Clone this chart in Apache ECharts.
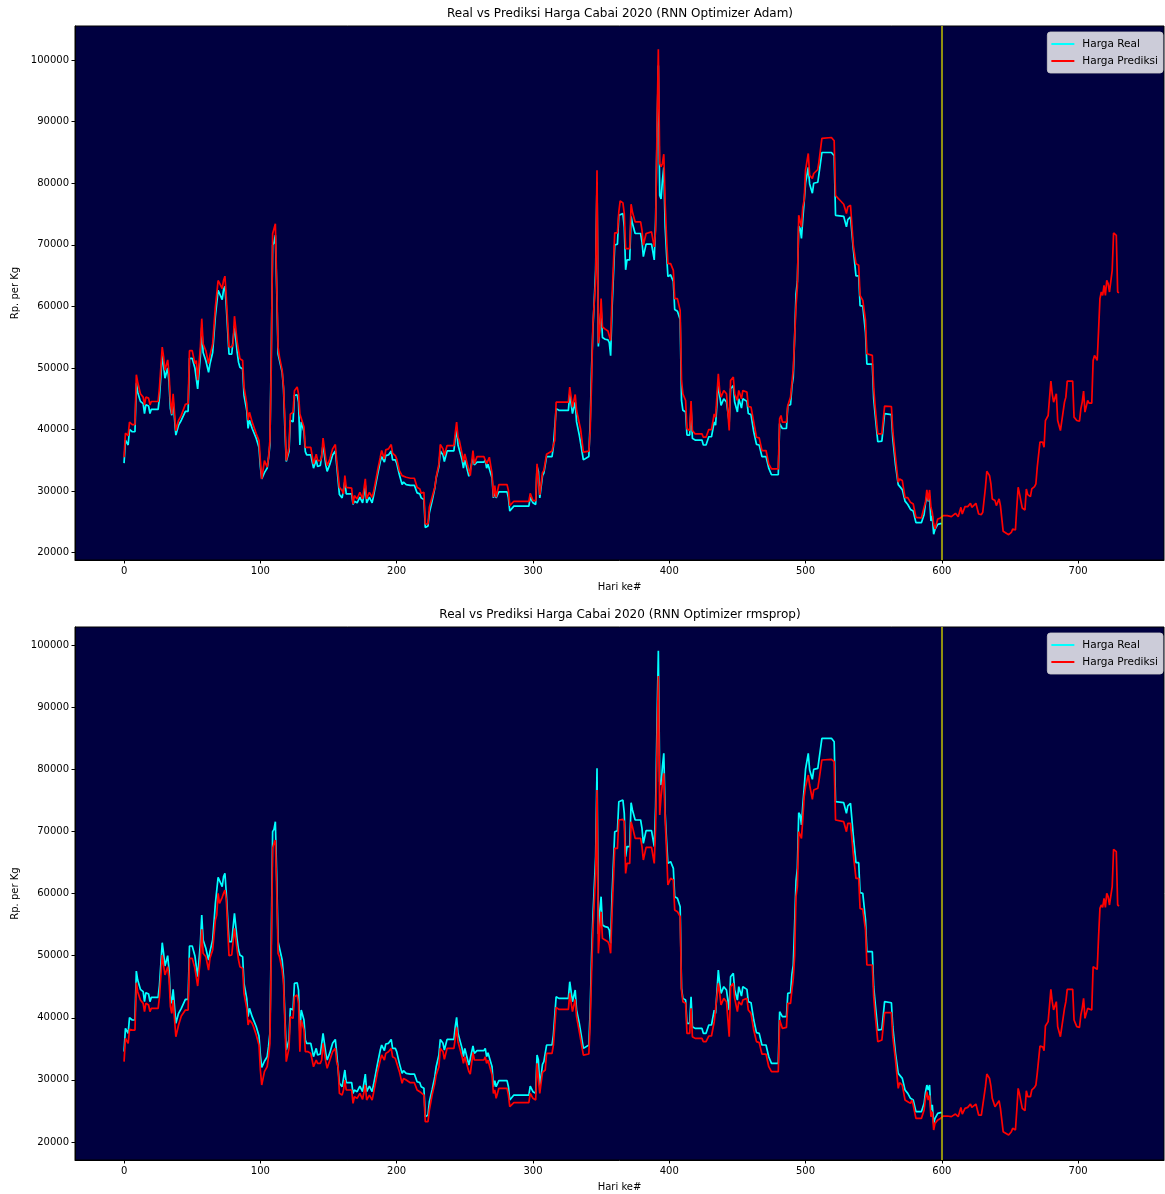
<!DOCTYPE html>
<html><head><meta charset="utf-8">
<script src="https://cdn.jsdelivr.net/npm/echarts@6/dist/echarts.min.js"></script>
<style>html,body{margin:0;padding:0;background:#fff}#c{width:1165px;height:1194px}</style>
</head><body><div id="c"></div>
<script>
// ---- historical period (days 0..600): real price and the two model predictions ----
const histDays = [
0,1,3,4,6,8,9,10,12,14,
15,16,18,19,20,25,26,28,29,30,
32,33,34,35,36,38,40,42,45,47,
48,50,52,53,54,56,57,58,60,62,
63,65,67,68,69,70,72,73,74,75,
77,79,80,81,83,84,85,87,88,90,
91,92,94,95,97,99,100,101,103,105,
106,107,108,109,110,111,112,113,114,116,
117,118,119,121,122,124,125,127,128,129,
130,132,133,134,135,137,139,141,142,144,
145,146,148,149,151,153,155,156,157,158,
160,161,162,163,167,168,169,171,173,175,
176,177,178,180,182,183,184,186,188,189,
191,192,194,196,197,199,200,202,204,205,
207,210,213,215,217,218,220,221,223,224,
226,228,229,231,232,234,235,237,242,243,
244,245,246,248,249,250,251,253,254,256,
257,259,264,265,266,267,268,270,271,272,
273,275,281,282,283,284,286,297,298,299,
300,302,303,304,305,307,308,309,310,314,
315,316,317,319,326,327,329,331,332,334,
335,337,341,342,343,344,346,347,348,349,
350,351,353,355,356,357,358,359,360,362,
363,364,366,367,368,369,371,372,373,375,
379,380,381,383,387,389,390,391,392,393,
394,395,396,397,398,399,401,403,404,406,
408,409,410,412,413,415,416,417,419,424,
425,427,429,431,433,434,436,437,438,440,
442,444,445,447,448,450,451,453,454,457,
458,460,462,464,466,468,471,473,475,480,
481,482,483,486,487,489,490,491,492,493,
494,495,496,497,498,499,500,502,503,505,
506,509,510,512,519,521,522,528,530,531,
533,535,537,539,540,542,544,545,549,550,
551,553,556,558,563,564,566,568,569,571,
573,575,577,578,579,581,585,587,588,589,
590,591,592,593,594,595,597,599,600
];
const realVals = [
34540,38290,37490,40010,39640,39640,47520,46070,44570,44200,
42590,44040,43820,42590,43280,43280,45270,52080,50370,48330,
49990,47680,43390,42320,44570,39100,40710,41510,42960,42960,
51550,51550,49940,49990,46610,51980,56540,52510,51170,49290,
50640,52510,58420,58420,62600,62440,61100,62710,63250,60030,
52240,52240,52410,56810,52510,50900,50100,49830,45540,43120,
40170,41510,40170,39900,38560,37060,34000,32000,33000,33730,
35340,37490,52510,69950,70330,71560,62710,52240,51980,49290,
46610,40170,34800,36410,41510,41240,45540,45640,44460,37500,
41240,39640,36410,35880,35980,35880,33730,35070,34000,34160,
34270,37490,34270,33200,34380,35880,36520,34270,34000,29440,
28900,28900,31590,29550,29550,27830,28370,28100,29010,28100,
28370,30940,28100,29010,28100,29170,29440,32660,34810,35610,
34700,35770,35880,36520,35070,35070,34540,32660,31050,31480,
31050,30940,30940,29710,29550,28900,28640,24080,24340,26490,
28370,30510,32120,34000,36520,35880,34810,36520,36520,38560,
40070,37490,37490,35070,33730,35070,34810,32390,32120,35450,
34270,34700,34700,35070,33730,34380,34540,32120,28900,29870,
28900,29870,29870,28900,26760,26490,27560,27560,29010,28900,
28100,27830,34000,33200,28900,32500,32930,33200,35610,35610,
37220,37490,43390,43120,43120,45800,42580,44460,41240,39100,
38800,35070,35610,41240,49830,56270,65930,80150,53500,57000,
59490,54930,54660,54550,54120,51980,59490,59490,69950,70110,
74780,75050,75050,72900,65930,67540,67540,74620,73440,71830,
71830,70490,68070,70110,70110,67540,73980,87000,99090,78000,
77460,80410,82560,72900,68610,64850,65120,64050,59490,59220,
57880,44730,43120,42850,39100,39100,43390,38560,38290,38290,
37490,37490,38830,38830,41240,40710,47680,45540,43920,45000,
44460,41240,46610,47150,44460,42850,45000,43490,45000,44570,
42590,42420,39630,37600,37490,35610,35610,33730,32660,32660,
40970,40710,40170,40170,43930,44030,47000,48490,55000,62000,
64050,73010,72640,71030,74250,77000,80000,82560,79880,78380,
79990,80150,81760,84980,84980,84440,74780,74620,72900,74090,
74510,69420,64960,64960,60130,60030,55730,50630,50630,45000,
42590,38020,38130,42590,42420,38560,34270,31050,31050,30240,
28370,27830,27030,27290,26760,24880,24880,26220,28000,29170,
28370,29170,25150,26000,23000,23800,24610,24720,24720
];
const adamHist = [
35500,39400,39000,41200,40800,40800,48900,47700,45800,45260,
44000,45260,45100,44000,44550,44550,46900,53400,51800,49600,
51300,49000,44700,42500,45800,39800,41500,42300,44100,44200,
52800,52800,50700,51200,48000,53400,58000,53900,52800,50700,
52000,53900,59900,59900,64200,64200,62900,64200,64900,61500,
53400,53400,53900,58400,54200,52800,51500,51200,46900,44200,
41500,42800,41200,41200,39300,38200,34960,31980,34960,33900,
35500,38200,50100,71800,72100,73400,63700,53400,51800,49600,
46900,41500,34960,37100,42500,42800,46300,46900,45800,42500,
42500,40400,37100,36860,37100,37100,34400,36000,34960,34960,
35500,38600,35200,34150,35200,36860,37560,34960,34690,30620,
30080,29540,32520,30620,30500,27900,29270,28730,29810,28730,
29000,31980,28730,29810,29000,29810,29970,33340,35500,36590,
35230,36700,36860,37560,36150,35770,35230,33340,32520,32520,
32250,32090,32090,30620,30350,29650,29810,24660,24660,27370,
29000,30620,32250,34420,37560,36860,35770,37400,37400,39400,
41190,38750,38210,36040,34690,36040,36040,33340,32520,36590,
34420,35610,35610,35930,34420,34960,35500,32790,29000,30900,
29000,31060,31060,30080,27640,27370,28350,28350,29650,29810,
28450,28450,34420,34690,29400,33000,33340,33340,36000,36500,
37500,38210,44440,44450,44450,46880,43630,45690,43090,41000,
40000,36320,36480,39840,47430,57180,64230,82110,54000,56100,
61250,56640,56300,56000,55830,54470,61250,61520,71920,71920,
75340,77130,76800,75070,69380,69110,69380,76580,75340,73710,
73710,72360,69920,71820,72090,69650,72360,88600,101730,83200,
82660,83200,84710,76700,71270,66940,66940,65850,61250,61250,
59350,47970,45800,44720,40110,39840,44610,39840,39300,39300,
38750,38750,40000,40000,42550,42000,49050,46340,45260,46340,
45800,39840,47970,48510,45800,44720,46340,44990,46340,46070,
43740,43630,41190,38750,38640,36590,36590,34420,33600,33600,
41730,42280,41190,41190,43900,45260,45260,49870,50140,60000,
63140,74800,74530,72900,76150,77230,82110,84820,81300,80760,
81570,82220,83740,87260,87420,86880,78000,76580,75070,76150,
76420,70000,66940,66670,61790,60980,57720,52300,52030,46880,
43900,39300,39300,43790,43740,39840,35500,31440,31980,31710,
28950,28950,28180,28450,27910,25750,25640,27370,28180,30190,
28450,30190,27370,26500,24660,23850,25470,25640,25900
];
const rmsHist = [
32930,36680,35880,38130,38020,38020,45640,44200,42850,42320,
40980,42320,42050,40980,41510,41510,43390,50100,48490,46880,
48220,46340,41780,40710,42850,36950,38830,40280,41240,41240,
49560,49560,47950,48220,45110,49560,54230,50370,49830,47680,
49560,50900,55730,56540,60030,58420,59380,60030,60560,59000,
49990,50100,50370,54390,50900,49290,48220,47950,43930,41510,
38830,39640,39100,38560,37220,35610,31590,29170,31320,32120,
33730,35880,49830,67270,68070,68610,60560,50370,49830,47680,
45540,39100,32930,35070,40170,39900,43390,43660,42320,34540,
39640,38020,34540,34270,34540,34270,32120,33200,32660,32660,
33200,35880,32930,31860,33200,34540,35070,32930,32120,27830,
27560,28370,29980,28370,28370,26220,27290,27030,27830,26870,
26760,29170,26760,27560,26760,27830,28100,31320,33200,34000,
33200,34270,34540,35070,33730,33460,33200,31320,29440,30240,
29980,29550,29550,28370,28100,27830,27560,23270,23270,25150,
27560,29440,30780,32120,35070,34540,33310,35070,35070,36680,
38450,36150,35880,33730,32660,33730,33730,31320,30940,34380,
33200,33200,33200,33730,32660,33200,33460,30780,27830,28370,
27030,28640,28640,27560,25680,25410,26330,26330,27830,27560,
27030,26760,32660,32390,27830,31200,31320,31590,34270,34270,
35610,35880,41680,41350,41350,43920,40980,42960,40170,37760,
37490,33990,34160,39100,47150,54120,63240,76660,50370,54120,
57070,52780,52510,52240,51710,50370,56810,57070,67270,67270,
71830,71940,71940,71560,63240,64850,64850,71560,70760,68880,
68880,67540,65390,67430,67430,64850,70760,83000,95010,72630,
75580,77730,79340,71830,67000,61360,62440,62170,57340,57070,
56270,44460,42580,42320,37490,37490,41510,36950,36680,36680,
36150,36150,37060,37060,39370,39100,45540,43920,42050,43120,
42580,36950,45000,45540,43120,40980,42580,42050,42850,43120,
41240,40710,38020,36150,35990,34160,34160,32120,31320,31320,
39630,39370,38290,38450,42320,42320,44500,46340,50000,59490,
61100,69950,69420,68880,72100,75590,77200,79070,77460,75160,
76660,76930,78380,81490,81600,81220,71830,71560,69950,71290,
71290,66460,62440,62440,57610,57450,54120,48490,48490,43390,
40710,36150,36410,40810,40810,36950,33200,28630,29550,29170,
26760,26490,26220,26760,25950,23800,23800,25150,27000,28100,
26760,27500,24080,24880,21930,23000,23540,23800,24100
];
// ---- forecast period (after day 600): predictions only ----
const fcDays = [
601,604,607,610,612,614,615,617,619,621,
622,623,625,627,629,630,632,633,635,636,
637,639,640,642,643,645,646,649,651,652,
654,655,656,657,659,661,662,663,665,666,
668,669,670,672,673,674,675,676,678,679,
680,681,682,684,685,687,688,690,691,692,
696,697,699,701,702,703,704,705,707,708,
710,711,712,714,715,716,717,718,719,720,
721,722,723,725,726,727,728,729,730
];
const adamFc = [
26020,26020,25850,26400,25850,27370,26290,27480,27480,28020,
27370,27640,28020,26290,26180,26560,30620,33230,32520,31170,
28730,28460,27640,28730,27640,23470,23310,22930,23310,23850,
23690,27370,30620,29540,27260,26940,30350,29430,29110,30350,
30730,31170,33880,37940,38210,37940,37130,41460,42280,42010,
47860,45800,44450,45800,41460,39840,40110,44450,45260,47860,
47860,42010,41460,41350,43360,44450,46230,42820,44720,44280,
44280,51220,52030,51220,56100,61250,62330,61790,63420,61790,
64230,63690,62330,65850,71920,71820,71540,62330,62220
];
const rmsFc = [
24180,24180,24080,24500,24080,25570,24500,25410,25570,26110,
25570,25790,26110,24340,24340,24610,28900,30940,30240,29010,
27030,25680,25680,26650,25410,21660,21500,21120,21660,22200,
21930,25150,28630,27720,25410,25040,28260,27290,27290,28370,
28800,29170,31050,35450,35450,35340,34700,38670,39370,39210,
44570,42590,41250,42590,38560,36950,37060,41510,42590,44570,
44570,39630,38560,38460,40440,41510,43120,39900,41510,41250,
41250,48220,48490,47790,53050,57610,58150,57770,59220,57770,
60030,59490,58150,61100,67110,67000,66730,58150,57990
];
const splitDay = 600;
const xTicks = [0,100,200,300,400,500,600,700];
const yTicks = [20000,30000,40000,50000,60000,70000,80000,90000,100000];
const titles = ['Real vs Prediksi Harga Cabai 2020 (RNN Optimizer Adam)',
                'Real vs Prediksi Harga Cabai 2020 (RNN Optimizer rmsprop)'];

const FONT = 'DejaVu Sans';
const pairs = (days, vals) => days.map((d, i) => [d, vals[i]]);
const realData = pairs(histDays, realVals);
const adamData = pairs(histDays.concat(fcDays), adamHist.concat(adamFc));
const rmsData = pairs(histDays.concat(fcDays), rmsHist.concat(rmsFc));

const gridsPx = [{top: 26, height: 534, ymin: 18815, ymax: 105520},
                 {top: 627, height: 533, ymin: 17103, ymax: 102897}];
const txt = {fontFamily: FONT, fontSize: 10, color: '#000'};

const chart = echarts.init(document.getElementById('c'), null, {renderer: 'canvas'});
const option = {
  backgroundColor: '#ffffff',
  animation: false,
  title: titles.map((t, i) => ({
    text: t, left: 620, top: gridsPx[i].top - 18, textAlign: 'center', padding: 0,
    textStyle: {fontFamily: FONT, fontSize: 12, fontWeight: 'normal', color: '#000'}
  })),
  grid: gridsPx.map(g => ({left: 75, top: g.top, width: 1089, height: g.height, show: true,
    backgroundColor: '#000040', borderColor: '#000', borderWidth: 1, containLabel: false})),
  xAxis: gridsPx.map((g, i) => ({
    type: 'value', gridIndex: i, min: -36, max: 763,
    name: 'Hari ke#', nameLocation: 'middle', nameGap: 22, nameTextStyle: txt,
    axisLine: {show: true, onZero: false, lineStyle: {color: '#000', width: 1}},
    axisTick: {show: true, inside: false, length: 3.5, lineStyle: {color: '#000'}, customValues: xTicks},
    axisLabel: Object.assign({margin: 6, customValues: xTicks, formatter: v => String(v)}, txt),
    splitLine: {show: false}
  })),
  yAxis: gridsPx.map((g, i) => ({
    type: 'value', gridIndex: i, min: g.ymin, max: g.ymax,
    name: 'Rp. per Kg', nameLocation: 'middle', nameGap: 55, nameRotate: 90, nameTextStyle: txt,
    axisLine: {show: true, onZero: false, lineStyle: {color: '#000', width: 1}},
    axisTick: {show: true, inside: false, length: 3.5, lineStyle: {color: '#000'}, customValues: yTicks},
    axisLabel: Object.assign({margin: 6, customValues: yTicks, formatter: v => String(v)}, txt),
    splitLine: {show: false}
  })),
  legend: gridsPx.map(g => ({
    orient: 'vertical', right: 2, top: g.top + 6, data: ['Harga Real', 'Harga Prediksi'],
    icon: 'rect', itemWidth: 23, itemHeight: 2, itemGap: 5, padding: [6, 5, 6, 4],
    backgroundColor: 'rgba(255,255,255,0.8)', borderColor: 'rgba(204,204,204,0.8)', borderWidth: 1,
    borderRadius: 3, selectedMode: false,
    textStyle: {fontFamily: FONT, fontSize: 10.5, color: '#000', padding: [0, 0, 0, 3], lineHeight: 12}
  })),
  series: []
};
[[realData, adamData], [realData, rmsData]].forEach((pair, i) => {
  option.series.push({
    type: 'line', name: 'Harga Real', xAxisIndex: i, yAxisIndex: i, data: pair[0],
    showSymbol: false, symbol: 'none', silent: true, clip: true,
    lineStyle: {color: '#00ffff', width: 1.7}, itemStyle: {color: '#00ffff'}
  });
  option.series.push({
    type: 'line', name: 'Harga Prediksi', xAxisIndex: i, yAxisIndex: i, data: pair[1],
    showSymbol: false, symbol: 'none', silent: true, clip: true,
    lineStyle: {color: '#ff0000', width: 1.7}, itemStyle: {color: '#ff0000'},
    markLine: {silent: true, symbol: 'none', label: {show: false},
      lineStyle: {color: '#bfbf00', width: 1.5, type: 'solid'}, data: [{xAxis: splitDay}]}
  });
});
chart.setOption(option);
</script></body></html>
